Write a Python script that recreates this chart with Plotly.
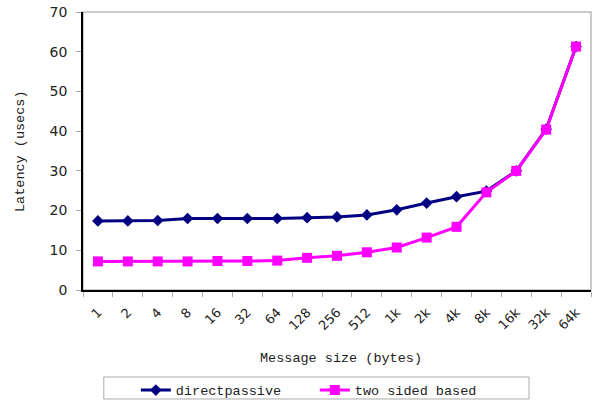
import plotly.graph_objects as go

sizes = ["1", "2", "4", "8", "16", "32", "64", "128", "256", "512",
         "1k", "2k", "4k", "8k", "16k", "32k", "64k"]
direct_passive = [17.4, 17.4, 17.5, 18.0, 18.0, 18.0, 18.0, 18.2, 18.4, 18.9,
                  20.2, 21.9, 23.5, 24.9, 30.0, 40.5, 61.3]
two_sided = [7.2, 7.2, 7.2, 7.2, 7.3, 7.3, 7.4, 8.1, 8.6, 9.5,
             10.7, 13.2, 15.9, 24.6, 30.0, 40.4, 61.3]

mono = "Liberation Mono, Courier New, monospace"
sans = "DejaVu Sans, Verdana, sans-serif"

fig = go.Figure()
fig.add_trace(go.Scatter(
    x=sizes, y=direct_passive, name="directpassive", mode="lines+markers",
    line=dict(color="#000080", width=3),
    marker=dict(symbol="diamond", size=9, color="#000080")))
fig.add_trace(go.Scatter(
    x=sizes, y=two_sided, name="two sided based", mode="lines+markers",
    line=dict(color="#FF00FF", width=3),
    marker=dict(symbol="square", size=10, color="#FF00FF")))

fig.update_layout(
    width=592, height=402,
    margin=dict(l=83, r=1, t=12, b=112, autoexpand=False),
    plot_bgcolor="white", paper_bgcolor="white",
    showlegend=True,
    legend=dict(orientation="h", x=0.104, xanchor="left", y=-0.305, yanchor="top",
                borderwidth=0, bgcolor="rgba(0,0,0,0)", entrywidth=134, itemwidth=30,
                font=dict(family=mono, size=13.5, color="#222")),
    shapes=[
        dict(type="rect", xref="paper", yref="paper", x0=0, y0=0, x1=1, y1=1,
             line=dict(color="#BBBBBB", width=1.5), layer="below"),
        dict(type="rect", xref="paper", yref="paper", x0=0.041, y0=-0.313, x1=0.878, y1=-0.392,
             line=dict(color="#AAAAAA", width=1), layer="below"),
    ],
    annotations=[
        dict(text="Message size (bytes)", xref="paper", yref="paper", x=0.508, y=-0.245,
             xanchor="center", yanchor="middle", showarrow=False,
             font=dict(family=mono, size=13.5, color="#222")),
        dict(text="Latency (usecs)", xref="paper", yref="paper", x=-0.124, y=0.5,
             xanchor="center", yanchor="middle", textangle=-90, showarrow=False,
             font=dict(family=mono, size=13.5, color="#222")),
    ],
)
fig.update_xaxes(type="category", range=[-0.5, 16.5], showgrid=False, automargin=False,
                 showline=True, linecolor="black", linewidth=1.5,
                 ticks="outside", tickson="boundaries", ticklen=5, tickcolor="#AAAAAA",
                 ticklabelstandoff=8,
                 tickangle=-45, tickfont=dict(family=sans, size=13, color="#222"))
fig.update_yaxes(range=[0, 70], dtick=10, showgrid=False, zeroline=False, automargin=False,
                 showline=True, linecolor="black", linewidth=1.5,
                 ticks="outside", ticklen=5, tickcolor="#AAAAAA",
                 ticklabelstandoff=6,
                 tickfont=dict(family=sans, size=14, color="#222"))

fig.write_html("out.html", config={"displayModeBar": False},
               post_script="document.body.style.margin='0';")
